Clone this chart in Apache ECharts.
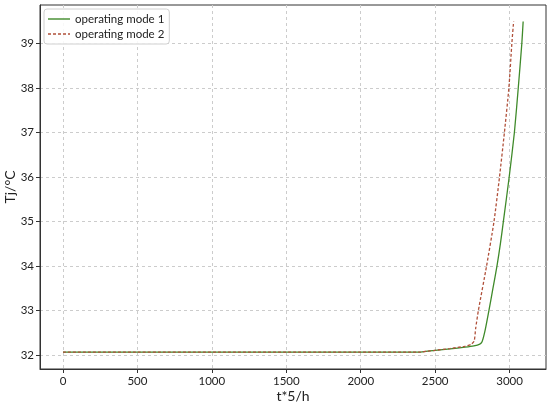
<!DOCTYPE html>
<html>
<head>
<meta charset="utf-8">
<script src="https://cdn.jsdelivr.net/npm/echarts@6/dist/echarts.min.js"></script>
<style>
  html, body { margin: 0; padding: 0; background: #fff; }
  #chart { width: 550px; height: 406px; }
</style>
</head>
<body>
<div id="chart"></div>
<script>
// operating mode 1 (solid green)
const mode1X = [0, 2400, 2450, 2500, 2600, 2700, 2760, 2800, 2815, 2835, 2861, 2888, 2915, 2938, 2958, 2997, 3032, 3058, 3082, 3091];
const mode1Y = [32.07, 32.07, 32.09, 32.11, 32.14, 32.18, 32.21, 32.25, 32.3, 32.55, 33.0, 33.5, 34.0, 34.5, 35.0, 36.0, 37.0, 38.0, 39.0, 39.5];
// operating mode 2 (dashed brown)
const mode2X = [0, 2400, 2450, 2500, 2600, 2700, 2740, 2762, 2772, 2790, 2845, 2895, 2932, 2965, 2995, 3015, 3027];
const mode2Y = [32.07, 32.07, 32.09, 32.11, 32.15, 32.2, 32.24, 32.32, 32.6, 33.0, 34.0, 35.0, 36.0, 37.0, 38.0, 39.0, 39.5];

const xTicks = [0, 500, 1000, 1500, 2000, 2500, 3000];
const yTicks = [32, 33, 34, 35, 36, 37, 38, 39];

const toPairs = (xs, ys) => xs.map((x, i) => [x, ys[i]]);

const chart = echarts.init(document.getElementById('chart'));
const font = 'Lato, "Noto Sans", sans-serif';
const solidIcon = 'path://M0,0h22v1.4h-22z';
const dashIcon = 'path://M0,0h3v1.4h-3z M5,0h3v1.4h-3z M10,0h3v1.4h-3z M15,0h3v1.4h-3z M20,0h2v1.4h-2z';

chart.setOption({
  animation: false,
  textStyle: { fontFamily: font },
  grid: {
    left: 40, right: 4, top: 5, bottom: 37,
    outerBoundsMode: 'none',
    containLabel: false,
    show: true, borderColor: '#333', borderWidth: 1
  },
  legend: {
    left: 44, top: 9,
    orient: 'vertical',
    itemWidth: 22, itemHeight: 2, itemGap: 3,
    padding: [4, 5, 4, 4],
    borderColor: '#d0d0d0', borderWidth: 1, borderRadius: 3,
    backgroundColor: 'rgba(255,255,255,0.85)',
    textStyle: { fontSize: 11.5, color: '#222', fontFamily: font },
    data: [
      { name: 'operating mode 1', icon: solidIcon, itemStyle: { color: '#3f8a2a' } },
      { name: 'operating mode 2', icon: dashIcon, itemStyle: { color: '#b0503a' } }
    ]
  },
  xAxis: {
    type: 'value',
    min: -154.5, max: 3244.5,
    name: 't*5/h',
    nameLocation: 'middle', nameGap: 20, nameMoveOverlap: false,
    nameTextStyle: { fontSize: 14, color: '#222' },
    axisLine: { show: true, onZero: false, lineStyle: { color: '#333' } },
    axisTick: { show: true, customValues: xTicks, length: 4, lineStyle: { color: '#333' } },
    axisLabel: { customValues: xTicks, fontSize: 11.5, color: '#222', margin: 6, formatter: v => String(v) },
    splitLine: { show: true, lineStyle: { color: '#ccc', type: [3, 3] } }
  },
  yAxis: {
    type: 'value',
    min: 31.69, max: 39.87,
    name: 'Tj/°C',
    nameLocation: 'middle', nameGap: 23, nameRotate: 90, nameMoveOverlap: false,
    nameTextStyle: { fontSize: 14, color: '#222' },
    axisLine: { show: true, onZero: false, lineStyle: { color: '#333' } },
    axisTick: { show: true, customValues: yTicks, length: 4, lineStyle: { color: '#333' } },
    axisLabel: { customValues: yTicks, fontSize: 11.5, color: '#222', margin: 6, formatter: v => String(v) },
    splitLine: { show: true, lineStyle: { color: '#ccc', type: [3, 3] } }
  },
  series: [
    {
      name: 'operating mode 1',
      type: 'line',
      data: toPairs(mode1X, mode1Y),
      symbol: 'none',
      smooth: 0.2,
      lineStyle: { color: '#3f8a2a', width: 1.3 },
      itemStyle: { color: '#3f8a2a' }
    },
    {
      name: 'operating mode 2',
      type: 'line',
      data: toPairs(mode2X, mode2Y),
      symbol: 'none',
      smooth: 0.2,
      lineStyle: { color: '#b0503a', width: 1.3, type: [3, 2] },
      itemStyle: { color: '#b0503a' }
    }
  ]
});
</script>
</body>
</html>
